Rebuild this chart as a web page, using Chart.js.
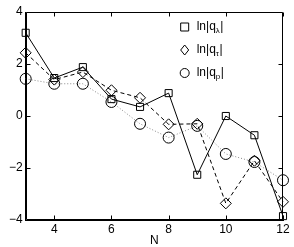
<!DOCTYPE html>
<html>
<head>
<meta charset="utf-8">
<script src="https://cdn.jsdelivr.net/npm/chart.js@4"></script>
<style>
  html, body { margin: 0; padding: 0; background: #fff; }
</style>
</head>
<body>
<canvas id="plot" width="294" height="247"></canvas>
<script>
const N = [3, 4, 5, 6, 7, 8, 9, 10, 11, 12];
const lnQlambda = [3.2, 1.46, 1.88, 0.65, 0.35, 0.88, -2.26, 0.0, -0.74, -3.85];
const lnQtau = [2.43, 1.4, 1.69, 0.99, 0.7, -0.32, -0.3, -3.36, -1.72, -3.3];
const lnQp = [1.43, 1.24, 1.24, 0.54, -0.3, -0.83, -0.38, -1.46, -1.77, -2.47];
const xTicks = [4, 6, 8, 10, 12];
const yTicks = [-4, -2, 0, 2, 4];

const FONT = 'Liberation Sans, Arial, Helvetica, sans-serif';

const toPts = ys => ys.map((y, i) => ({ x: N[i], y: y }));

// box round the plot, inward ticks on all four sides, and the legend with subscripts
const decor = {
    id: 'decor',
    afterDraw(chart) {
        const ctx = chart.ctx;
        const a = chart.chartArea;
        const sx = chart.scales.x, sy = chart.scales.y;
        const L = Math.round(a.left) + 0.5, R = Math.round(a.right) - 0.5;
        const T = Math.round(a.top) + 0.5, B = Math.round(a.bottom) - 0.5;
        const len = 4;
        ctx.save();
        ctx.setLineDash([]);
        ctx.strokeStyle = '#000';
        ctx.fillStyle = '#000';
        ctx.lineWidth = 1;

        ctx.beginPath();
        ctx.moveTo(L, T); ctx.lineTo(R, T);
        ctx.lineTo(R, B); ctx.lineTo(L, B);
        ctx.closePath();
        xTicks.forEach(v => {
            const x = Math.round(sx.getPixelForValue(v)) + 0.5;
            ctx.moveTo(x, B); ctx.lineTo(x, B - len);
            ctx.moveTo(x, T); ctx.lineTo(x, T + len);
        });
        yTicks.forEach(v => {
            const y = Math.round(sy.getPixelForValue(v)) + 0.5;
            ctx.moveTo(L, y); ctx.lineTo(L + len, y);
            ctx.moveTo(R, y); ctx.lineTo(R - len, y);
        });
        ctx.stroke();

        const items = [
            { style: 'rect', sub: 'λ' },
            { style: 'rectRot', sub: 'τ' },
            { style: 'circle', sub: 'p' }
        ];
        const mx = a.left + 159, tx = a.left + 171;
        items.forEach((it, i) => {
            const y = a.top + 15 + i * 23;
            ctx.beginPath();
            if (it.style === 'rect') {
                ctx.rect(mx - 4, y - 4, 8, 8);
            } else if (it.style === 'rectRot') {
                ctx.moveTo(mx, y - 5); ctx.lineTo(mx + 4, y);
                ctx.lineTo(mx, y + 5); ctx.lineTo(mx - 4, y);
                ctx.closePath();
            } else {
                ctx.arc(mx, y, 4.5, 0, Math.PI * 2);
            }
            ctx.stroke();
            ctx.textBaseline = 'middle';
            ctx.font = '12px ' + FONT;
            let x = tx;
            ctx.fillText('ln|q', x, y);
            x += ctx.measureText('ln|q').width;
            ctx.font = '8px ' + FONT;
            ctx.fillText(it.sub, x, y + 4);
            x += ctx.measureText(it.sub).width + 0.5;
            ctx.font = '12px ' + FONT;
            ctx.fillText('|', x, y);
        });
        ctx.restore();
    }
};

const common = {
    borderColor: '#000',
    borderWidth: 1,
    pointBorderColor: '#000',
    pointBackgroundColor: 'rgba(0,0,0,0)',
    pointBorderWidth: 1,
    clip: false
};

new Chart(document.getElementById('plot'), {
    type: 'line',
    data: {
        datasets: [
            Object.assign({}, common, {
                data: toPts(lnQlambda),
                pointStyle: 'rect',
                pointRadius: 5
            }),
            Object.assign({}, common, {
                data: toPts(lnQtau),
                borderDash: [4, 3],
                pointStyle: 'rectRot',
                pointRadius: 5.5
            }),
            Object.assign({}, common, {
                data: toPts(lnQp),
                borderColor: '#888',
                borderDash: [1, 2],
                pointStyle: 'circle',
                pointRadius: 5.5
            })
        ]
    },
    options: {
        responsive: false,
        animation: false,
        layout: { padding: { left: 6, right: 11, top: 12, bottom: 0 } },
        plugins: { legend: { display: false }, tooltip: { enabled: false } },
        scales: {
            x: {
                type: 'linear',
                min: 3,
                max: 12,
                grid: { display: false, drawTicks: false },
                border: { display: true, color: '#000', width: 1 },
                ticks: {
                    stepSize: 2,
                    autoSkip: false,
                    maxRotation: 0,
                    color: '#000',
                    padding: 4,
                    font: { family: FONT, size: 12, lineHeight: 1 },
                    callback: v => (xTicks.includes(v) ? String(v) : '')
                },
                title: {
                    display: true,
                    text: 'N',
                    color: '#000',
                    padding: { top: -5, bottom: 0 },
                    font: { family: FONT, size: 12, lineHeight: 1 }
                }
            },
            y: {
                min: -4,
                max: 4,
                grid: { display: false, drawTicks: false },
                border: { display: true, color: '#000', width: 1 },
                ticks: {
                    stepSize: 2,
                    color: '#000',
                    padding: 3,
                    font: { family: FONT, size: 12 },
                    callback: v => (v < 0 ? '\u2212' + Math.abs(v) : String(v))
                }
            }
        }
    },
    plugins: [decor]
});
</script>
</body>
</html>
